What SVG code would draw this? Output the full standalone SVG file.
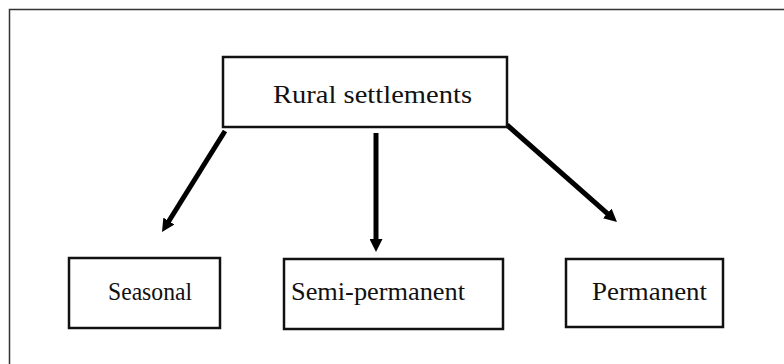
<svg xmlns="http://www.w3.org/2000/svg" width="784" height="364" viewBox="0 0 784 364">
  <style>
    .frame { fill: none; stroke: #333; stroke-width: 1.5; }
    .box { fill: #fff; stroke: #111; stroke-width: 2.5; }
    .label { font-family: "Liberation Serif", "Times New Roman", serif; font-size: 26px; fill: #111; }
    .arrow { stroke: #000; stroke-width: 5; fill: none; marker-end: url(#head); }
  </style>
  <defs>
    <marker id="head" viewBox="0 0 10 10" refX="2" refY="5" markerWidth="2.6" markerHeight="2.6" orient="auto" markerUnits="strokeWidth">
      <path d="M0,0 L10,5 L0,10 z" fill="#000"/>
    </marker>
  </defs>

  <rect width="784" height="364" fill="#fff"/>
  <!-- page frame, only its left and top edges fall inside the view -->
  <rect class="frame" x="9.5" y="9.5" width="800" height="400"/>

  <g id="connectors">
    <line class="arrow" x1="225" y1="131" x2="167.5" y2="223.2"/>
    <line class="arrow" x1="376" y1="133" x2="376" y2="241.6"/>
    <line class="arrow" x1="507" y1="125" x2="609.2" y2="215.1"/>
  </g>

  <g id="rural-settlements">
    <rect class="box" x="223" y="57" width="284" height="70"/>
    <text class="label" x="273" y="103" textLength="199" lengthAdjust="spacingAndGlyphs">Rural settlements</text>
  </g>

  <g id="seasonal">
    <rect class="box" x="69" y="258" width="151" height="70"/>
    <text class="label" x="108" y="300" textLength="84" lengthAdjust="spacingAndGlyphs">Seasonal</text>
  </g>

  <g id="semi-permanent">
    <rect class="box" x="284" y="259" width="219" height="70"/>
    <text class="label" x="291" y="300" textLength="174" lengthAdjust="spacingAndGlyphs">Semi-permanent</text>
  </g>

  <g id="permanent">
    <rect class="box" x="566" y="259" width="157" height="68"/>
    <text class="label" x="592" y="300" textLength="115" lengthAdjust="spacingAndGlyphs">Permanent</text>
  </g>
</svg>
